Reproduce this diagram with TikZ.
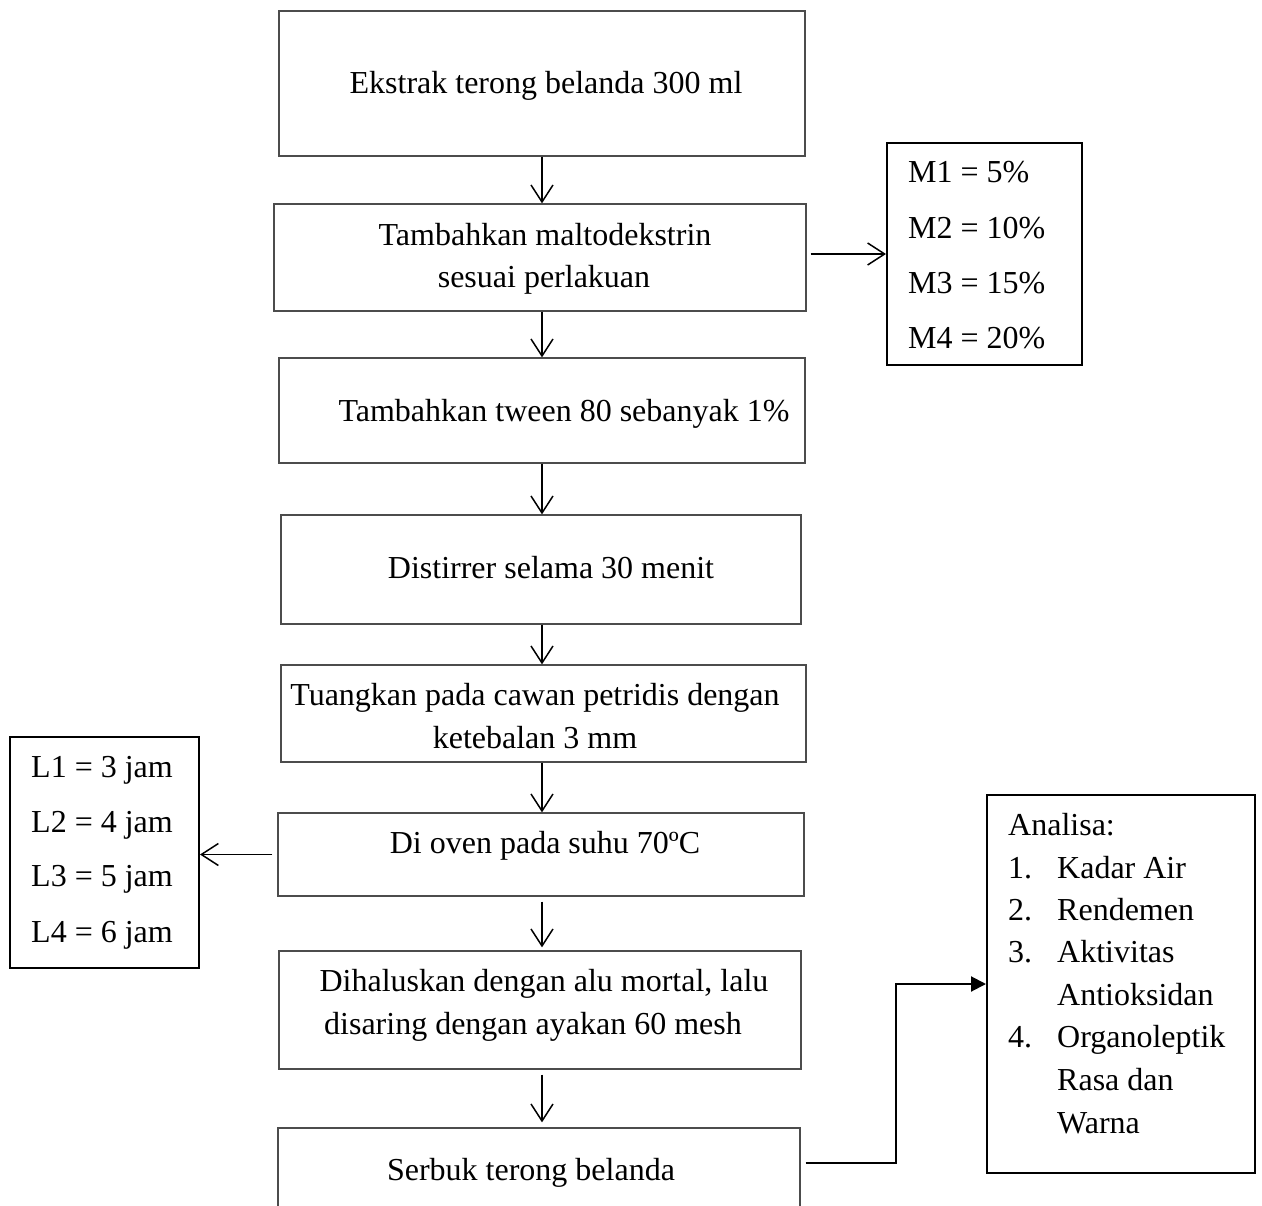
\documentclass[tikz,border=0pt]{standalone}
\usepackage{fontspec}
\setmainfont{Liberation Serif}
\usetikzlibrary{arrows.meta}
\begin{document}
\begin{tikzpicture}[x=1pt,y=-1pt,
  mainbox/.style={draw=black!70, line width=1.3pt, inner sep=0pt},
  sidebox/.style={draw=black, line width=2pt, inner sep=0pt},
  ctxt/.style={font=\fontsize{32}{42.5}\selectfont, inner sep=0pt, anchor=base},
  ltxt/.style={font=\fontsize{32}{42.5}\selectfont, inner sep=0pt, anchor=base west},
  flow/.style={line width=1.5pt, -{Straight Barb[length=17pt,width=22pt,line width=1.5pt]}},
  elbow/.style={line width=2pt, -{Triangle[length=15pt,width=15pt]}}]
\clip (0,0) rectangle (1262,1206);
\fill[white] (0,0) rectangle (1262,1206);
% main boxes
\node[mainbox, minimum width=526pt, minimum height=145pt] (b1) at (542,83.5) {};
\node[mainbox, minimum width=532pt, minimum height=107pt] (b2) at (540,257.5) {};
\node[mainbox, minimum width=526pt, minimum height=105pt] (b3) at (542,410.5) {};
\node[mainbox, minimum width=520pt, minimum height=109pt] (b4) at (541,569.5) {};
\node[mainbox, minimum width=525pt, minimum height=97pt] (b5) at (543.5,713.5) {};
\node[mainbox, minimum width=526pt, minimum height=83pt] (b6) at (541,854.5) {};
\node[mainbox, minimum width=522pt, minimum height=118pt] (b7) at (540,1010) {};
\node[mainbox, minimum width=522pt, minimum height=132pt] (b8) at (539,1194) {};
% texts of main boxes
\node[ctxt] (t1) at (546,94) {Ekstrak terong belanda 300 ml};
\node[ctxt] (t2a) at (545,246) {Tambahkan maltodekstrin};
\node[ctxt] (t2b) at (544,288) {sesuai perlakuan};
\node[ctxt] (t3) at (564,421) {Tambahkan tween 80 sebanyak 1\%};
\node[ctxt] (t4) at (551,578) {Distirrer selama 30 menit};
\node[ctxt] (t5a) at (535,705) {Tuangkan pada cawan petridis dengan};
\node[ctxt] (t5b) at (535,748) {ketebalan 3 mm};
\node[ctxt] (t6) at (545,853) {Di oven pada suhu 70ºC};
\node[ctxt] (t7a) at (544,991) {Dihaluskan dengan alu mortal, lalu};
\node[ctxt] (t7b) at (533,1034) {disaring dengan ayakan 60 mesh};
\node[ctxt] (t8) at (531,1180) {Serbuk terong belanda};
% side boxes
\node[sidebox, minimum width=195pt, minimum height=222pt] (mb) at (984.5,254) {};
\node[ltxt] (m1) at (908,183) {M1 = 5\%};
\node[ltxt] (m2) at (908,239) {M2 = 10\%};
\node[ltxt] (m3) at (908,294) {M3 = 15\%};
\node[ltxt] (m4) at (908,349) {M4 = 20\%};
\node[sidebox, minimum width=189pt, minimum height=231pt] (lb) at (104.5,852.5) {};
\node[ltxt] (l1) at (31,777) {L1 = 3 jam};
\node[ltxt] (l2) at (31,832) {L2 = 4 jam};
\node[ltxt] (l3) at (31,886) {L3 = 5 jam};
\node[ltxt] (l4) at (31,942) {L4 = 6 jam};
\node[sidebox, minimum width=268pt, minimum height=378pt] (ab) at (1121,984) {};
\node[ltxt] (a0) at (1008,835) {Analisa:};
\node[ltxt] (a1n) at (1008,878) {1.};
\node[ltxt] (a1) at (1057,878) {Kadar Air};
\node[ltxt] (a2n) at (1008,920) {2.};
\node[ltxt] (a2) at (1057,920) {Rendemen};
\node[ltxt] (a3n) at (1008,962) {3.};
\node[ltxt] (a3) at (1057,962) {Aktivitas};
\node[ltxt] (a3b) at (1057,1005) {Antioksidan};
\node[ltxt] (a4n) at (1008,1047) {4.};
\node[ltxt] (a4) at (1057,1047) {Organoleptik};
\node[ltxt] (a4b) at (1057,1090) {Rasa dan};
\node[ltxt] (a4c) at (1057,1133) {Warna};
% connectors
\coordinate (ax) at (542,0);
\draw[flow] (b1.south -| ax) -- (b2.north -| ax);
\draw[flow] (b2.south -| ax) -- (b3.north -| ax);
\draw[flow] (b3.south -| ax) -- (b4.north -| ax);
\draw[flow] (b4.south -| ax) -- (b5.north -| ax);
\draw[flow] (b5.south -| ax) -- (b6.north -| ax);
\draw[flow, shorten <=5pt, shorten >=3pt] (b6.south -| ax) -- (b7.north -| ax);
\draw[flow, shorten <=5pt, shorten >=5pt] (b7.south -| ax) -- (b8.north -| ax);
\draw[flow, shorten <=4pt] (b2.east |- mb.west) -- (mb.west);
\draw[flow, shorten <=5pt] (b6.west) -- (lb.east |- b6.west);
\coordinate (k) at (896,1163);
\draw[elbow] ([xshift=5pt]b8.east |- k) -- (k) |- (ab.west);
\end{tikzpicture}
\end{document}
